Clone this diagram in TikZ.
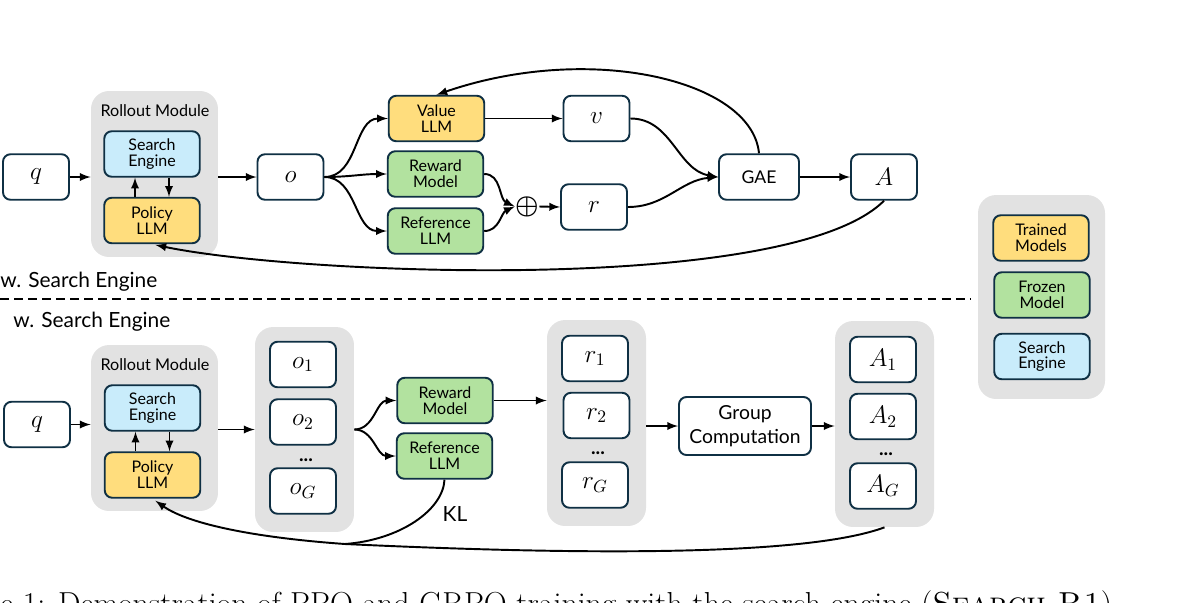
\documentclass[tikz,border=0pt]{standalone}
\usepackage{amsmath}
\usepackage{fontspec}
\setsansfont{Lato}
\usetikzlibrary{calc}
\definecolor{linec}{HTML}{0F3044}
\definecolor{panelc}{HTML}{E2E2E2}
\definecolor{trainc}{HTML}{FFDD7D}
\definecolor{frozenc}{HTML}{B2E29F}
\definecolor{searchc}{HTML}{C9ECFB}
\tikzset{
    >=latex,
    wire/.style = {line width=1.1pt, black},
    panel/.style = {fill=panelc, rounded corners=0.36cm, minimum width=1.98cm, inner sep=0pt},
    databox/.style = {draw=linec, line width=1.1pt, rounded corners=0.15cm, fill=white,
        minimum width=1.32cm, minimum height=0.91cm, inner sep=0pt, font=\Large},
    modelbox/.style = {databox, minimum width=1.91cm, align=center, font=\sffamily\fontsize{9.1}{9}\selectfont},
    lab/.style = {font=\sffamily\fontsize{9.2}{10}\selectfont, inner sep=0pt},
    biglab/.style = {font=\sffamily\fontsize{11.9}{13}\selectfont, inner sep=0pt},
    dotlab/.style = {font=\sffamily\bfseries\fontsize{11}{11}\selectfont, inner sep=0pt},
}
\begin{document}
\begin{tikzpicture}[x=0.02cm, y=-0.02cm]
        \useasboundingbox (0,0) rectangle (1196,602);

        % upper part
        \node (rollout_top)[panel, minimum width=2.54cm, minimum height=3.32cm] at (154.5,174) {};
        \node (title_top)[lab] at (155,111) {Rollout Module};
        \node (q_top)[databox] at (36,177) {$q$};
        \node (search_top)[modelbox, fill=searchc] at (152,154) {Search\\Engine};
        \node (policy_top)[modelbox, fill=trainc] at (152,220.5) {Policy\\LLM};
        \node (o_top)[databox] at (290.5,177) {$o$};
        \node (value_top)[modelbox, fill=trainc] at (436.5,118.5) {Value\\LLM};
        \node (reward_top)[modelbox, fill=frozenc] at (435.5,174) {Reward\\Model};
        \node (reference_top)[modelbox, fill=frozenc] at (435.5,231) {Reference\\LLM};
        \node (v_top)[databox] at (596.5,118.5) {$v$};
        \node (sum_top)[scale=1.5, inner sep=0pt] at (527,206.5) {$\boldsymbol{\oplus}$};
        \node (r_top)[databox] at (594,207) {$r$};
        \node (gae_top)[databox, minimum width=1.6cm, font=\sffamily\fontsize{10}{11}\selectfont] at (759,177) {GAE};
        \node (a_top)[databox] at (884,177) {$A$};

        \path(q_top.east) edge[wire,->] (rollout_top.west |- q_top.east);
        \path(rollout_top.east |- o_top.west) edge[wire,->] (o_top.west);
        \path([xshift=-0.34cm]policy_top.north) edge[wire,->] ([xshift=-0.34cm]search_top.south);
        \path([xshift=0.34cm]search_top.south) edge[wire,->] ([xshift=0.34cm]policy_top.north);
        \path(o_top.east) edge[wire,->,out=0,in=180] (value_top.west);
        \path(o_top.east) edge[wire,->,out=0,in=180] (reward_top.west);
        \path(o_top.east) edge[wire,->,out=0,in=180] (reference_top.west);
        \path(value_top.east) edge[wire,->] (v_top.west);
        \path(reward_top.east) edge[wire,->,out=0,in=155] (sum_top.west);
        \path(reference_top.east) edge[wire,->,out=0,in=205] (sum_top.west);
        \path(sum_top.east) edge[wire,->] (r_top.west);
        \path(v_top.east) edge[wire,->,out=0,in=170] (gae_top.west);
        \path(r_top.east) edge[wire,->,out=0,in=185] (gae_top.west);
        \path(gae_top.east) edge[wire,->] (a_top.west);
        \draw[wire,->] (gae_top.north) .. controls (752,80) and (590,42) .. (value_top.north);
        \draw[wire,->,shorten >=2pt] (a_top.south) .. controls (790,295) and (300,275) .. (policy_top.south);

        \node (upper_lab)[biglab, anchor=base west] at (0,287) {w. Search Engine};
        \coordinate (dash_left) at (0,299);
        \coordinate (dash_right) at (970,299);
        \draw[line width=1pt, black, dash pattern=on 5pt off 3pt] (dash_left) -- (dash_right);
        \node (lower_lab)[biglab, anchor=base west] at (13,327) {w. Search Engine};

        % lower part
        \node (rollout_bot)[panel, minimum width=2.54cm, minimum height=3.32cm] at (154.5,428) {};
        \node (title_bot)[lab] at (155,365) {Rollout Module};
        \node (q_bot)[databox] at (37,424.5) {$q$};
        \node (search_bot)[modelbox, fill=searchc] at (152.5,408) {Search\\Engine};
        \node (policy_bot)[modelbox, fill=trainc] at (152.5,475) {Policy\\LLM};

        \node (obs_bot)[panel, minimum height=4.1cm] at (304.5,429.5) {};
        \node (o1_bot)[databox] at (303,364.5) {$o_1$};
        \node (o2_bot)[databox] at (303,422) {$o_2$};
        \node (odots_bot)[dotlab] at (306,460) {...};
        \node (og_bot)[databox] at (303,491) {$o_G$};

        \node (reward_bot)[modelbox, fill=frozenc] at (445,400.5) {Reward\\Model};
        \node (reference_bot)[modelbox, fill=frozenc] at (444.5,456) {Reference\\LLM};
        \node (kl_bot)[biglab] at (455,514) {KL};

        \node (rew_bot)[panel, minimum height=4.12cm] at (596.5,423) {};
        \node (r1_bot)[databox] at (595,358.5) {$r_1$};
        \node (r2_bot)[databox] at (596.5,415.5) {$r_2$};
        \node (rdots_bot)[dotlab] at (598,453) {...};
        \node (rg_bot)[databox] at (595,485) {$r_G$};

        \node (group_bot)[databox, minimum width=2.64cm, minimum height=1.16cm, align=center,
            font=\sffamily\fontsize{11}{13.6}\selectfont] at (745,426) {Group\\Computation};

        \node (adv_bot)[panel, minimum height=4.12cm] at (884.5,424) {};
        \node (a1_bot)[databox] at (883,359.5) {$A_1$};
        \node (a2_bot)[databox] at (883,416.5) {$A_2$};
        \node (adots_bot)[dotlab] at (886,454) {...};
        \node (ag_bot)[databox] at (883,486) {$A_G$};

        \coordinate (merge_bot) at (345,544);

        \path(q_bot.east) edge[wire,->] (rollout_bot.west |- q_bot.east);
        \path(rollout_bot.east |- obs_bot.west) edge[wire,->] (obs_bot.west);
        \path([xshift=-0.34cm]policy_bot.north) edge[wire,->] ([xshift=-0.34cm]search_bot.south);
        \path([xshift=0.34cm]search_bot.south) edge[wire,->] ([xshift=0.34cm]policy_bot.north);
        \path(obs_bot.east) edge[wire,->,out=0,in=180] (reward_bot.west);
        \path(obs_bot.east) edge[wire,->,out=0,in=180] (reference_bot.west);
        \path(reward_bot.east) edge[wire,->] (rew_bot.west |- reward_bot.east);
        \path(rew_bot.east |- group_bot.west) edge[wire,->] (group_bot.west);
        \path(group_bot.east) edge[wire,->] (adv_bot.west |- group_bot.east);
        \draw[wire] (reference_bot.south) .. controls (443,510) and (400,540) .. (merge_bot);
        \draw[wire,->,shorten >=2pt] (adv_bot.south) .. controls (810,555) and (600,556) .. (merge_bot)
            .. controls (260,538) and (190,525) .. (policy_bot.south);

        % legend
        \node (legend)[panel, minimum width=2.54cm, minimum height=4.08cm] at (1041.5,297) {};
        \node (trained_key)[modelbox, fill=trainc] at (1041,238) {Trained\\Models};
        \node (frozen_key)[modelbox, fill=frozenc] at (1042,295) {Frozen\\Model};
        \node (search_key)[modelbox, fill=searchc] at (1042,356.5) {Search\\Engine};

        % caption, cut off by the edge of the picture
        \node (caption)[anchor=base west, inner sep=0pt, font=\fontsize{18.1}{20}\selectfont] at (0,614)
            {e 1: Demonstration of PPO and GRPO training with the search engine (\textsc{Search-R1})};
\end{tikzpicture}
\end{document}
